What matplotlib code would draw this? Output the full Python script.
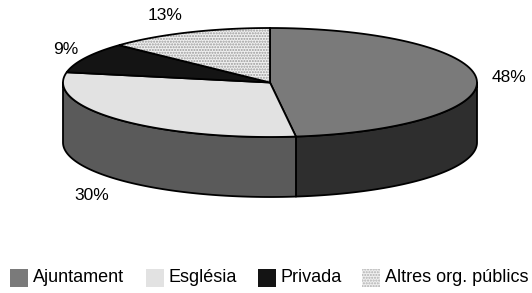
import numpy as np
import matplotlib.pyplot as plt
from matplotlib.patches import Polygon, Rectangle

plt.rcParams['font.family'] = ['Liberation Sans', 'DejaVu Sans']

labels = ['Ajuntament', 'Església', 'Privada', 'Altres org. públics']
values = [48, 30, 9, 13]
top_colors = ['#7a7a7a', '#e2e2e2', '#141414', '#f0f0f0']
side_colors = ['#2e2e2e', '#5a5a5a', '#0a0a0a', '#cfcfcf']
hatches = [None, None, None, '......']
pct_pos = [(509, 216), (92, 97), (66, 243), (165, 278)]

# ellipse geometry (pixels, y up)
cx, cy = 270, 210.5
a, b = 207, 54.5
depth = 60


def arc(t1, t2, dy=0, n=80):
    t = np.radians(np.linspace(t1, t2, n))
    return np.column_stack([cx + a * np.cos(t), cy + b * np.sin(t) - dy])


fig = plt.figure(figsize=(5.32, 2.93), dpi=100)
ax = fig.add_axes([0, 0, 1, 1])
ax.set_xlim(0, 532)
ax.set_ylim(0, 293)
ax.axis('off')

frac = np.array(values) / sum(values)
starts = 90 - 360 * np.concatenate([[0], np.cumsum(frac)[:-1]])
ends = starts - 360 * frac

# front walls (visible for angles between -180 and 0)
for s, e, sc in zip(starts, ends, side_colors):
    lo, hi = max(e, -180), min(s, 0)
    if lo >= hi:
        continue
    top = arc(hi, lo)
    bot = arc(lo, hi, dy=depth)
    ax.add_patch(Polygon(np.vstack([top, bot]), closed=True, facecolor=sc,
                         edgecolor='black', lw=1.3, joinstyle='round'))

# top faces
for s, e, tc, h in zip(starts, ends, top_colors, hatches):
    pts = np.vstack([[cx, cy], arc(s, e)])
    if h:
        ax.add_patch(Polygon(pts, closed=True, facecolor=tc, edgecolor='#9a9a9a',
                             hatch=h, lw=0))
        ax.add_patch(Polygon(pts, closed=True, facecolor='none', edgecolor='black', lw=1.3))
    else:
        ax.add_patch(Polygon(pts, closed=True, facecolor=tc, edgecolor='black', lw=1.3))

for v, (x, y) in zip(values, pct_pos):
    ax.text(x, y, f'{v}%', ha='center', va='center', fontsize=12.5)

# legend
leg_x = [10, 146, 258, 362]
leg_y = 15
for x, lab, tc, h in zip(leg_x, labels, top_colors, hatches):
    if h:
        ax.add_patch(Rectangle((x, leg_y - 9), 18, 18, facecolor=tc, edgecolor='#b0b0b0',
                               hatch=h, lw=0))
    else:
        ax.add_patch(Rectangle((x, leg_y - 9), 18, 18, facecolor=tc, edgecolor='none'))
    ax.text(x + 23, leg_y, lab, ha='left', va='center', fontsize=13)

fig.savefig('out.png', dpi=100, facecolor='white')
